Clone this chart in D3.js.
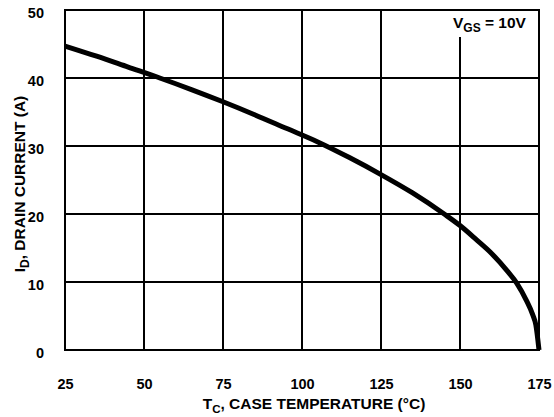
<!DOCTYPE html>
<html><head><meta charset="utf-8">
<script src="https://cdn.jsdelivr.net/npm/d3@7/dist/d3.min.js"></script>
<style>
html,body{margin:0;padding:0;background:#fff;}
svg{display:block;font-family:"Liberation Sans",Arial,sans-serif;font-weight:bold;}
</style></head>
<body>
<svg id="chart" width="554" height="417"></svg>
<script>
// Data
const xTicks = [25, 50, 75, 100, 125, 150, 175];
const yTicks = [0, 10, 20, 30, 40, 50];
const caseTemp = [25, 35, 45, 55, 65, 75, 85, 95, 105, 115, 125, 135, 145, 150, 155, 160, 165, 168, 171, 173, 174, 175];
const drainCurrent = [44.7, 43.2, 41.6, 40.0, 38.3, 36.5, 34.6, 32.6, 30.6, 28.3, 25.8, 23.1, 20.0, 18.3, 16.3, 14.2, 11.6, 9.8, 7.3, 5.2, 3.7, 0];

(function () {
const svg = d3.select("#chart");
const pL = 65, pR = 539, pT = 10, pB = 350;
const x = d3.scaleLinear().domain([25, 175]).range([pL, pR]);
const y = d3.scaleLinear().domain([0, 50]).range([pB, pT]);

// Gridlines
const g = svg.append("g");
g.selectAll("line.vx").data(xTicks).join("line")
  .attr("x1", d => x(d)).attr("x2", d => x(d))
  .attr("y1", pT).attr("y2", pB)
  .attr("stroke", "#000").attr("stroke-width", 2);
g.selectAll("line.hy").data(yTicks).join("line")
  .attr("x1", pL).attr("x2", pR)
  .attr("y1", d => y(d)).attr("y2", d => y(d))
  .attr("stroke", "#000").attr("stroke-width", 2);

// Axes (labels only)
const xAxis = svg.append("g").attr("transform", `translate(0,${pB})`)
  .call(d3.axisBottom(x).tickValues(xTicks).tickSize(0).tickPadding(29).tickFormat(d3.format("d")));
xAxis.select(".domain").remove();
xAxis.selectAll("text").attr("font-size", 14.5).attr("font-weight", "bold")
  .attr("font-family", "Liberation Sans, Arial, sans-serif").attr("fill", "#000");

const yAxis = svg.append("g").attr("transform", `translate(${pL},0)`)
  .call(d3.axisLeft(y).tickValues(yTicks).tickSize(0).tickPadding(21).tickFormat(d3.format("d")));
yAxis.select(".domain").remove();
yAxis.selectAll("text").attr("font-size", 14.5).attr("font-weight", "bold")
  .attr("font-family", "Liberation Sans, Arial, sans-serif").attr("fill", "#000")
  .attr("dy", "0.55em");

// Border
svg.append("rect").attr("x", pL).attr("y", pT)
  .attr("width", pR - pL).attr("height", pB - pT)
  .attr("fill", "none").attr("stroke", "#000").attr("stroke-width", 2);

// Curve
const line = d3.line().x((d, i) => x(caseTemp[i])).y(d => y(d)).curve(d3.curveMonotoneX);
svg.append("path").datum(drainCurrent).attr("d", line)
  .attr("fill", "none").attr("stroke", "#000").attr("stroke-width", 5)
  .attr("stroke-linejoin", "round");

// Annotation box
svg.append("rect").attr("x", 449).attr("y", 11).attr("width", 89).attr("height", 26).attr("fill", "#fff");
const ann = svg.append("text").attr("x", 453).attr("y", 27.5).attr("font-size", 15.5).attr("fill", "#000");
ann.append("tspan").text("V");
ann.append("tspan").attr("font-size", 12).attr("dy", 4).text("GS");
ann.append("tspan").attr("dy", -4).text(" = 10V");

// X title
const xt = svg.append("text").attr("x", 314).attr("y", 409).attr("text-anchor", "middle")
  .attr("font-size", 15.5).attr("fill", "#000");
xt.append("tspan").text("T");
xt.append("tspan").attr("font-size", 11.5).attr("dy", 3.5).text("C");
xt.append("tspan").attr("dy", -3.5).text(", CASE TEMPERATURE (°C)");

// Y title
const yt = svg.append("text").attr("transform", "translate(25,184) rotate(-90)")
  .attr("text-anchor", "middle").attr("font-size", 15.5).attr("fill", "#000");
yt.append("tspan").text("I");
yt.append("tspan").attr("font-size", 12).attr("dy", 4).text("D");
yt.append("tspan").attr("dy", -4).text(", DRAIN CURRENT (A)");
})();
</script>
</body></html>
